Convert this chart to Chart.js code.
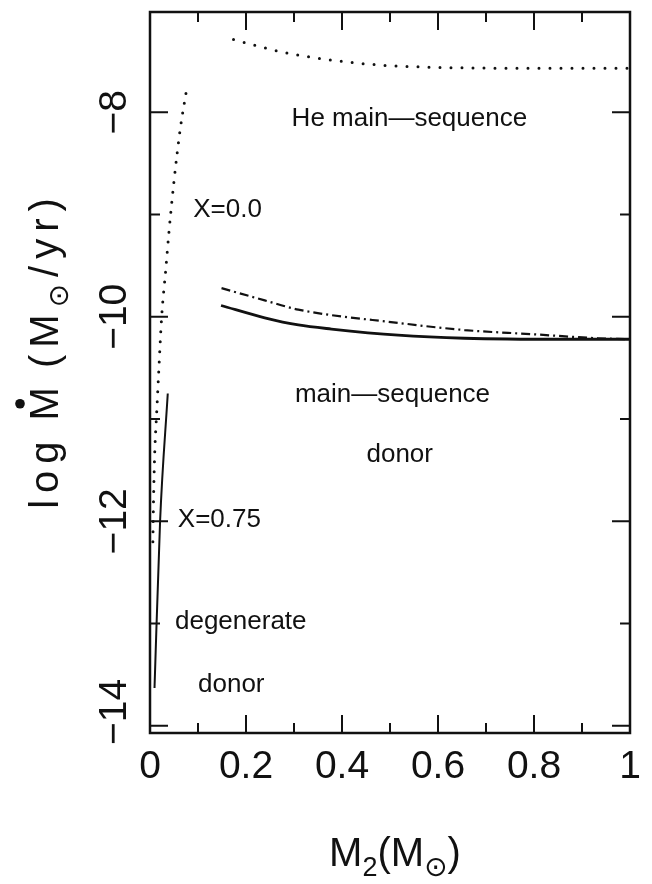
<!DOCTYPE html>
<html>
<head>
<meta charset="utf-8">
<script src="https://cdn.jsdelivr.net/npm/chart.js@4.4.1/dist/chart.umd.min.js"></script>
<style>
  html, body { margin: 0; padding: 0; background: #fff; }
  #wrap { width: 652px; height: 884px; }
</style>
</head>
<body>
<div id="wrap"><canvas id="c" width="652" height="884"></canvas></div>
<script>
// Axis ticks
const xMajorTicks = [0, 0.2, 0.4, 0.6, 0.8, 1];
const xTickLabels = ['0', '0.2', '0.4', '0.6', '0.8', '1'];
const xMinorTicks = [0.1, 0.3, 0.5, 0.7, 0.9];
const yMajorTicks = [-14, -12, -10, -8];
const yTickLabels = ['\u221214', '\u221212', '\u221210', '\u22128'];
const yMinorTicks = [-13, -11, -9];

// He main-sequence donor (dotted, upper branch)
const heMsM2   = [0.174, 0.274, 0.378, 0.482, 0.586, 0.794, 0.974, 1.0];
const heMsRate = [-7.29, -7.41, -7.49, -7.54, -7.56, -7.57, -7.57, -7.57];

// Degenerate donor, X = 0.0 (dotted, steep)
const degX0M2   = [0.006, 0.0069, 0.0083, 0.0104, 0.014, 0.0175, 0.0243, 0.0328, 0.0399, 0.0503, 0.0628, 0.0765];
const degX0Rate = [-12.2, -11.91, -11.58, -11.26, -10.93, -10.6, -10.0, -9.54, -9.15, -8.66, -8.17, -7.77];

// Degenerate donor, X = 0.75 (solid, steep)
const degX75M2   = [0.0094, 0.021, 0.037];
const degX75Rate = [-13.63, -12.0, -10.75];

// Main-sequence donor (dash-dot)
const msDashM2   = [0.149, 0.239, 0.309, 0.517, 0.655, 0.794, 0.933, 1.0];
const msDashRate = [-9.72, -9.84, -9.93, -10.06, -10.13, -10.17, -10.21, -10.22];

// Main-sequence donor, X = 0.75 (solid)
const msSolidM2   = [0.148, 0.239, 0.309, 0.378, 0.517, 0.655, 0.863, 1.0];
const msSolidRate = [-9.89, -10.01, -10.08, -10.12, -10.18, -10.21, -10.22, -10.22];

// Region labels, anchored in data coordinates (left edge, baseline)
const regionLabels = [
  { text: 'He main\u2014sequence', x: 0.295, y: -8.134 },
  { text: 'X=0.0',                 x: 0.090, y: -9.026 },
  { text: 'main\u2014sequence',    x: 0.302, y: -10.834 },
  { text: 'donor',                 x: 0.451, y: -11.42 },
  { text: 'X=0.75',                x: 0.058, y: -12.06 },
  { text: 'degenerate',            x: 0.052, y: -13.05 },
  { text: 'donor',                 x: 0.100, y: -13.665 }
];

const pts = (xs, ys) => xs.map((x, i) => ({ x: x, y: ys[i] }));
const INK = '#111';

const base = {
  borderColor: INK, pointRadius: 0, fill: false,
  cubicInterpolationMode: 'monotone'
};

const datasets = [
  Object.assign({}, base, { data: pts(heMsM2, heMsRate), borderWidth: 3,
    borderDash: [0, 11], borderCapStyle: 'round' }),
  Object.assign({}, base, { data: pts(degX0M2, degX0Rate), borderWidth: 3,
    borderDash: [0, 10], borderCapStyle: 'round' }),
  Object.assign({}, base, { data: pts(degX75M2, degX75Rate), borderWidth: 2 }),
  Object.assign({}, base, { data: pts(msDashM2, msDashRate), borderWidth: 2.2,
    borderDash: [9, 4, 2, 4] }),
  Object.assign({}, base, { data: pts(msSolidM2, msSolidRate), borderWidth: 2.8 })
];

// Draw a run of text pieces (with sub-scripts) centred on x along the baseline
function drawPieces(ctx, pieces, cx, baseY, spacing) {
  ctx.letterSpacing = (spacing || 0) + 'px';
  let total = 0;
  pieces.forEach(p => { ctx.font = p.font; p.w = ctx.measureText(p.t).width; total += p.w + (p.gap || 0); });
  let x = cx - total / 2;
  ctx.textAlign = 'left';
  ctx.textBaseline = 'alphabetic';
  pieces.forEach(p => {
    ctx.font = p.font;
    ctx.fillText(p.t, x, baseY + (p.dy || 0));
    if (p.dot) {
      ctx.beginPath();
      ctx.arc(x + (p.w - (spacing || 0)) / 2, baseY - p.dot, 4.8, 0, Math.PI * 2);
      ctx.fill();
    }
    x += p.w + (p.gap || 0);
  });
  ctx.letterSpacing = '0px';
}

const framePlugin = {
  id: 'frame',
  afterDatasetsDraw(chart) {
    const ctx = chart.ctx;
    const a = chart.chartArea;
    const xs = chart.scales.x, ys = chart.scales.y;
    ctx.save();
    ctx.strokeStyle = INK;
    ctx.fillStyle = INK;

    // frame
    ctx.lineWidth = 2.5;
    ctx.strokeRect(a.left, a.top, a.right - a.left, a.bottom - a.top);

    // inward ticks on all four sides
    ctx.lineWidth = 2;
    const major = 18, minor = 10;
    ctx.beginPath();
    const xt = (v, len) => {
      const p = xs.getPixelForValue(v);
      ctx.moveTo(p, a.bottom); ctx.lineTo(p, a.bottom - len);
      ctx.moveTo(p, a.top); ctx.lineTo(p, a.top + len);
    };
    const yt = (v, len) => {
      const p = ys.getPixelForValue(v);
      ctx.moveTo(a.left, p); ctx.lineTo(a.left + len, p);
      ctx.moveTo(a.right, p); ctx.lineTo(a.right - len, p);
    };
    xMajorTicks.forEach(v => { if (v > 0 && v < 1) xt(v, major); });
    xMinorTicks.forEach(v => xt(v, minor));
    yMajorTicks.forEach(v => yt(v, major));
    yMinorTicks.forEach(v => yt(v, minor));
    ctx.stroke();

    // y tick labels, rotated; the lowest one is kept clear of the x labels
    ctx.font = '39px "Liberation Sans"';
    ctx.textAlign = 'center';
    ctx.textBaseline = 'middle';
    yMajorTicks.forEach((v, i) => {
      const half = ctx.measureText(yTickLabels[i]).width / 2;
      const p = Math.min(ys.getPixelForValue(v), a.bottom + 12 - half);
      ctx.save();
      ctx.translate(115, p);
      ctx.rotate(-Math.PI / 2);
      ctx.fillText(yTickLabels[i], 0, 0);
      ctx.restore();
    });

    // region labels
    ctx.font = '26px "Liberation Sans"';
    ctx.textAlign = 'left';
    ctx.textBaseline = 'alphabetic';
    regionLabels.forEach(l => {
      ctx.fillText(l.text, xs.getPixelForValue(l.x), ys.getPixelForValue(l.y));
    });

    // x title
    const big = '40px "Liberation Sans"';
    const sub = '27px "Liberation Sans"';
    const sun = '28px "DejaVu Sans"';
    drawPieces(ctx, [
      { t: 'M', font: big },
      { t: '2', font: sub, dy: 10 },
      { t: '(M', font: big },
      { t: '\u2299', font: sun, dy: 10 },
      { t: ')', font: big }
    ], 395, 866, 0);

    // y title, rotated
    ctx.save();
    ctx.translate(58, 350);
    ctx.rotate(-Math.PI / 2);
    drawPieces(ctx, [
      { t: 'log', font: big, gap: 14 },
      { t: 'M', font: big, dot: 38, gap: 12 },
      { t: '(M', font: big },
      { t: '\u2299', font: sun, dy: 10 },
      { t: '/yr)', font: big }
    ], 0, 0, 7);
    ctx.restore();

    ctx.restore();
  }
};

new Chart(document.getElementById('c').getContext('2d'), {
  type: 'line',
  data: { datasets: datasets },
  options: {
    responsive: false,
    animation: false,
    layout: { padding: { top: 12, right: 22, left: 0, bottom: 0 } },
    plugins: { legend: { display: false }, tooltip: { enabled: false } },
    scales: {
      x: {
        type: 'linear', min: 0, max: 1,
        grid: { display: false, drawTicks: false },
        border: { display: false },
        afterBuildTicks: s => { s.ticks = xMajorTicks.map(v => ({ value: v })); },
        afterFit: s => { s.height = 151; },
        ticks: {
          font: { family: 'Liberation Sans', size: 39 }, color: INK,
          padding: 11, maxRotation: 0, autoSkip: false,
          callback: v => xTickLabels[xMajorTicks.indexOf(v)]
        }
      },
      y: {
        type: 'linear', min: -14.07, max: -7.02,
        grid: { display: false, drawTicks: false },
        border: { display: false },
        afterBuildTicks: s => { s.ticks = yMajorTicks.map(v => ({ value: v })); },
        afterFit: s => { s.width = 150; },
        ticks: { display: false }
      }
    }
  },
  plugins: [framePlugin]
});
</script>
</body>
</html>
